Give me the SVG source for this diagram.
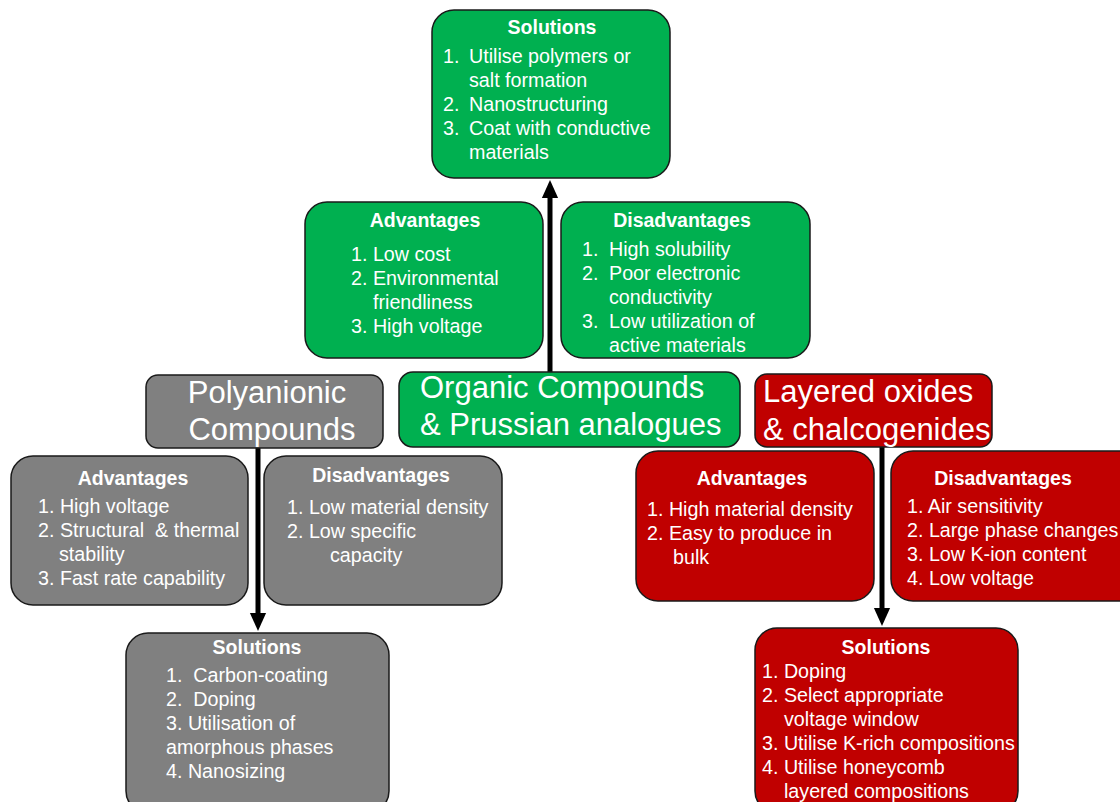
<svg xmlns="http://www.w3.org/2000/svg" width="1120" height="802" viewBox="0 0 1120 802">
<style>
.box{stroke:#1a1a1a;stroke-width:1.5}
.g{fill:#00B050}.r{fill:#C00000}.k{fill:#808080}
text{font-family:"Liberation Sans",Arial,sans-serif;fill:#fff;white-space:pre}
.t{font-weight:bold;font-size:19.5px;text-anchor:middle}
.b{font-size:19.7px}
.big{font-size:31px}
.conn{stroke:#000;stroke-width:5;fill:none}
</style>
<defs>
<marker id="ah" markerUnits="userSpaceOnUse" markerWidth="18" markerHeight="20" refX="0" refY="9" orient="auto" viewBox="0 0 20 18">
<path d="M0,0 L20,9 L0,18 Z" fill="#000"/>
</marker>
</defs>
<rect width="1120" height="802" fill="#fff"/>

<g id="conn">
<line class="conn" x1="550" y1="372" x2="550" y2="198" marker-end="url(#ah)"/>
<line class="conn" x1="258" y1="448" x2="258" y2="613" marker-end="url(#ah)"/>
<line class="conn" x1="882" y1="447" x2="882" y2="608" marker-end="url(#ah)"/>
</g>

<g id="green-solutions">
<rect class="box g" x="432" y="10" width="238" height="168" rx="22"/>
<text class="t" x="552" y="34">Solutions</text>
<text class="b" x="443" y="63">1.</text><text class="b" x="469" y="63">Utilise polymers or</text>
<text class="b" x="469" y="87">salt formation</text>
<text class="b" x="443" y="111">2.</text><text class="b" x="469" y="111">Nanostructuring</text>
<text class="b" x="443" y="135">3.</text><text class="b" x="469" y="135">Coat with conductive</text>
<text class="b" x="469" y="159">materials</text>
</g>

<g id="green-advantages">
<rect class="box g" x="305" y="202" width="238" height="156" rx="22"/>
<text class="t" x="425" y="227">Advantages</text>
<text class="b" x="351" y="261">1. Low cost</text>
<text class="b" x="351" y="285">2. Environmental</text>
<text class="b" x="373" y="309">friendliness</text>
<text class="b" x="351" y="333">3. High voltage</text>
</g>

<g id="green-disadvantages">
<rect class="box g" x="561" y="202" width="249" height="156" rx="22"/>
<text class="t" x="682" y="227">Disadvantages</text>
<text class="b" x="582" y="256">1.</text><text class="b" x="609" y="256">High solubility</text>
<text class="b" x="582" y="280">2.</text><text class="b" x="609" y="280">Poor electronic</text>
<text class="b" x="609" y="304">conductivity</text>
<text class="b" x="582" y="328">3.</text><text class="b" x="609" y="328">Low utilization of</text>
<text class="b" x="609" y="352">active materials</text>
</g>

<g id="organic">
<rect class="box g" x="399" y="372" width="341" height="75" rx="14"/>
<text class="big" x="420" y="398">Organic Compounds</text>
<text class="big" x="420" y="435">&amp; Prussian analogues</text>
</g>

<g id="polyanionic">
<rect class="box k" x="146" y="375" width="237" height="73" rx="12"/>
<text class="big" x="267" y="403" text-anchor="middle">Polyanionic</text>
<text class="big" x="272" y="440" text-anchor="middle">Compounds</text>
</g>

<g id="layered">
<rect class="box r" x="755" y="374" width="237" height="73" rx="12"/>
<text class="big" x="763" y="402">Layered oxides</text>
<text class="big" x="763" y="440">&amp; chalcogenides</text>
</g>

<g id="gray-advantages">
<rect class="box k" x="11" y="456" width="237" height="149" rx="22"/>
<text class="t" x="133" y="485">Advantages</text>
<text class="b" x="38" y="513">1. High voltage</text>
<text class="b" x="38" y="537">2. Structural  &amp; thermal</text>
<text class="b" x="59" y="561">stability</text>
<text class="b" x="38" y="585">3. Fast rate capability</text>
</g>

<g id="gray-disadvantages">
<rect class="box k" x="264" y="456" width="238" height="149" rx="22"/>
<text class="t" x="381" y="482">Disadvantages</text>
<text class="b" x="287" y="514">1. Low material density</text>
<text class="b" x="287" y="538">2. Low specific</text>
<text class="b" x="330" y="562">capacity</text>
</g>

<g id="gray-solutions">
<rect class="box k" x="126" y="633" width="263" height="180" rx="22"/>
<text class="t" x="257" y="654">Solutions</text>
<text class="b" x="166" y="682">1.  Carbon-coating</text>
<text class="b" x="166" y="706">2.  Doping</text>
<text class="b" x="166" y="730">3. Utilisation of</text>
<text class="b" x="166" y="754">amorphous phases</text>
<text class="b" x="166" y="778">4. Nanosizing</text>
</g>

<g id="red-advantages">
<rect class="box r" x="636" y="451" width="238" height="150" rx="22"/>
<text class="t" x="752" y="485">Advantages</text>
<text class="b" x="647" y="516">1. High material density</text>
<text class="b" x="647" y="540">2. Easy to produce in</text>
<text class="b" x="673" y="564">bulk</text>
</g>

<g id="red-disadvantages">
<rect class="box r" x="891" y="451" width="250" height="150" rx="22"/>
<text class="t" x="1003" y="485">Disadvantages</text>
<text class="b" x="907" y="513">1. Air sensitivity</text>
<text class="b" x="907" y="537">2. Large phase changes</text>
<text class="b" x="907" y="561">3. Low K-ion content</text>
<text class="b" x="907" y="585">4. Low voltage</text>
</g>

<g id="red-solutions">
<rect class="box r" x="755" y="628" width="263" height="185" rx="22"/>
<text class="t" x="886" y="654">Solutions</text>
<text class="b" x="762" y="678">1. Doping</text>
<text class="b" x="762" y="702">2. Select appropriate</text>
<text class="b" x="784" y="726">voltage window</text>
<text class="b" x="762" y="750">3. Utilise K-rich compositions</text>
<text class="b" x="762" y="774">4. Utilise honeycomb</text>
<text class="b" x="784" y="798">layered compositions</text>
</g>
</svg>
